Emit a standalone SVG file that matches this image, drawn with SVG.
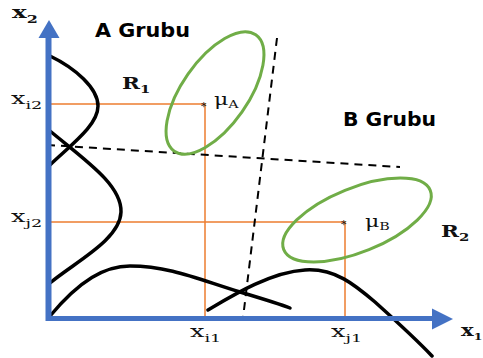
<svg xmlns="http://www.w3.org/2000/svg" width="483" height="358" viewBox="0 0 483 358">
<style>
.curve{fill:none;stroke:#000;stroke-width:3.5;stroke-linecap:round}
.guide{fill:none;stroke:#ED7D31;stroke-width:1.5}
.dash{fill:none;stroke:#000;stroke-width:2;stroke-dasharray:8 6}
.ell{fill:none;stroke:#70AD47;stroke-width:3}
.axis{stroke:#4472C4;fill:none}
.head{fill:#4472C4}
.math{font-family:"DejaVu Serif","Liberation Serif",serif;fill:#111}
.grp{font-family:"DejaVu Sans","Verdana",sans-serif;font-weight:bold;fill:#000}
</style>
<rect width="483" height="358" fill="#fff"/>
<g id="guides">
<path class="guide" d="M50,104 H205 V318"/>
<path class="guide" d="M50,222 H345 V318"/>
</g>
<g id="curves">
<path class="curve" d="M50,56 C75,68 98,88 98,106 C98,125 72,144 50,165"/>
<path class="curve" d="M50,131 C85,160 122,185 121,212 C120,240 75,262 50,283"/>
<path class="curve" d="M50,316 C80,280 105,266 130,266 C170,266 200,280 240,292 C260,298 280,304 290,308"/>
<path class="curve" d="M208,310 C230,297 270,272 305,270 C335,268 355,285 375,302 C395,320 415,338 432,356"/>
</g>
<g id="boundaries">
<line class="dash" x1="47" y1="145" x2="400" y2="167"/>
<line class="dash" x1="277" y1="38" x2="243" y2="318"/>
</g>
<g id="groupA">
<ellipse class="ell" cx="215" cy="93" rx="71" ry="33" transform="rotate(-55 215 93)"/>
<text class="math" x="201" y="110" font-size="11">*</text>
<text class="math" transform="translate(214,105) scale(1.3,1)" font-size="17">μ<tspan font-size="11" dy="3">A</tspan></text>
</g>
<g id="groupB">
<ellipse class="ell" cx="357" cy="220" rx="79" ry="32" transform="rotate(-22 357 220)"/>
<text class="math" x="341" y="228" font-size="11">*</text>
<text class="math" transform="translate(365,227) scale(1.3,1)" font-size="17">μ<tspan font-size="11" dy="3">B</tspan></text>
</g>
<g id="axes">
<line class="axis" x1="48.5" y1="321" x2="48.5" y2="36" stroke-width="6"/>
<polygon class="head" points="49,20 38.5,38 59.5,38"/>
<line class="axis" x1="46" y1="318.5" x2="434" y2="318.5" stroke-width="5"/>
<polygon class="head" points="453,319 432,308.5 432,329.5"/>
</g>
<g id="labels">
<text class="grp" x="95" y="37" font-size="19" textLength="95" lengthAdjust="spacingAndGlyphs">A Grubu</text>
<text class="grp" x="343" y="126" font-size="19" textLength="93" lengthAdjust="spacingAndGlyphs">B Grubu</text>
<text class="math" transform="translate(122,89) scale(1.35,1)" font-size="16" font-weight="bold">R<tspan font-size="11" dy="4">1</tspan></text>
<text class="math" transform="translate(441,237) scale(1.35,1)" font-size="16" font-weight="bold">R<tspan font-size="11" dy="4">2</tspan></text>
<text class="math" transform="translate(12,18) scale(1.45,1)" font-size="17" font-weight="bold">x<tspan font-size="11" dy="5">2</tspan></text>
<text class="math" transform="translate(461,336) scale(1.25,1)" font-size="17" font-weight="bold">x<tspan font-size="10" dy="4">1</tspan></text>
<text class="math" transform="translate(11,104) scale(1.6,1)" font-size="16">x<tspan font-size="11" dy="5">i2</tspan></text>
<text class="math" transform="translate(11,222) scale(1.6,1)" font-size="16">x<tspan font-size="11" dy="5">j2</tspan></text>
<text class="math" transform="translate(190,337) scale(1.6,1)" font-size="16">x<tspan font-size="11" dy="5">i1</tspan></text>
<text class="math" transform="translate(331,337) scale(1.6,1)" font-size="16">x<tspan font-size="11" dy="5">j1</tspan></text>
</g>
</svg>
